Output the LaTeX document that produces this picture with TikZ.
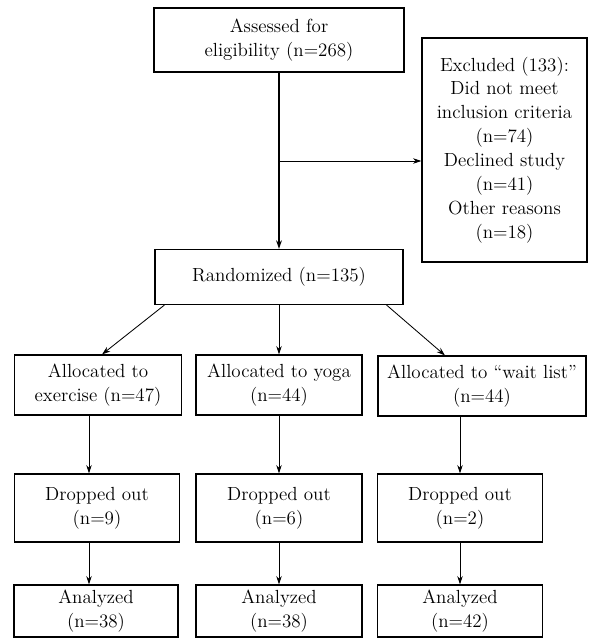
\documentclass[tikz,border=0pt]{standalone}
\usetikzlibrary{arrows.meta}
\begin{document}
\begin{tikzpicture}[x=0.025cm, y=-0.025cm,
    box/.style={draw, line width=0.8pt, align=center, inner sep=1pt,
                font=\fontsize{13.5}{17}\selectfont},
    flow/.style={-{Stealth[length=6pt,width=4pt]}, line width=0.6pt}]
  \useasboundingbox (0,0) rectangle (588,639);

  \node[box, minimum width=6.25cm, minimum height=1.6cm] (assess) at (279,40) {Assessed for\\eligibility (n=268)};
  \node[box, minimum width=4.125cm, minimum height=5.6cm] (excl) at (504.5,150) {Excluded (133):\\Did not meet\\inclusion criteria\\(n=74)\\Declined study\\(n=41)\\Other reasons\\(n=18)};
  \node[box, minimum width=6.2cm, minimum height=1.375cm] (rand) at (279,277) {Randomized (n=135)};

  \node[box, minimum width=4.175cm, minimum height=1.5cm] (alloc1) at (98,385) {Allocated to\\exercise (n=47)};
  \node[box, minimum width=4.15cm, minimum height=1.5cm] (alloc2) at (279,385) {Allocated to yoga\\(n=44)};
  \node[box, minimum width=5.2cm, minimum height=1.5cm] (alloc3) at (482,386) {Allocated to ``wait list''\\(n=44)};

  \node[box, minimum width=4.125cm, minimum height=1.7cm] (drop1) at (97,508) {Dropped out\\(n=9)};
  \node[box, minimum width=4.15cm, minimum height=1.7cm] (drop2) at (279,508) {Dropped out\\(n=6)};
  \node[box, minimum width=4.125cm, minimum height=1.7cm] (drop3) at (460,508) {Dropped out\\(n=2)};

  \node[box, minimum width=4.1cm, minimum height=1.3cm] (anal1) at (96,611) {Analyzed\\(n=38)};
  \node[box, minimum width=4.15cm, minimum height=1.3cm] (anal2) at (279,611) {Analyzed\\(n=38)};
  \node[box, minimum width=4.125cm, minimum height=1.3cm] (anal3) at (460,611) {Analyzed\\(n=42)};

  % screening
  \coordinate (split) at (279,161);
  \draw[flow, line width=1pt] (assess) -- (rand);
  \draw[flow] (split) -- (split -| excl.west);

  % allocation
  \draw[flow] ([xshift=0.25cm]rand.south west) -- ([xshift=0.1cm]alloc1.north);
  \draw[flow] (rand) -- (alloc2);
  \draw[flow] ([xshift=-0.425cm]rand.south east) -- ([xshift=-0.925cm]alloc3.north);

  % follow-up
  \draw[flow] ([xshift=-0.2cm]drop1.north |- alloc1.south) -- ([xshift=-0.2cm]drop1.north);
  \draw[flow] (alloc2) -- (drop2);
  \draw[flow] (drop3.north |- alloc3.south) -- (drop3.north);
  \draw[flow] ([xshift=-0.2cm]drop1.south) -- ([xshift=-0.2cm]drop1.south |- anal1.north);
  \draw[flow] (drop2) -- (anal2);
  \draw[flow] (drop3) -- (anal3);
\end{tikzpicture}
\end{document}
